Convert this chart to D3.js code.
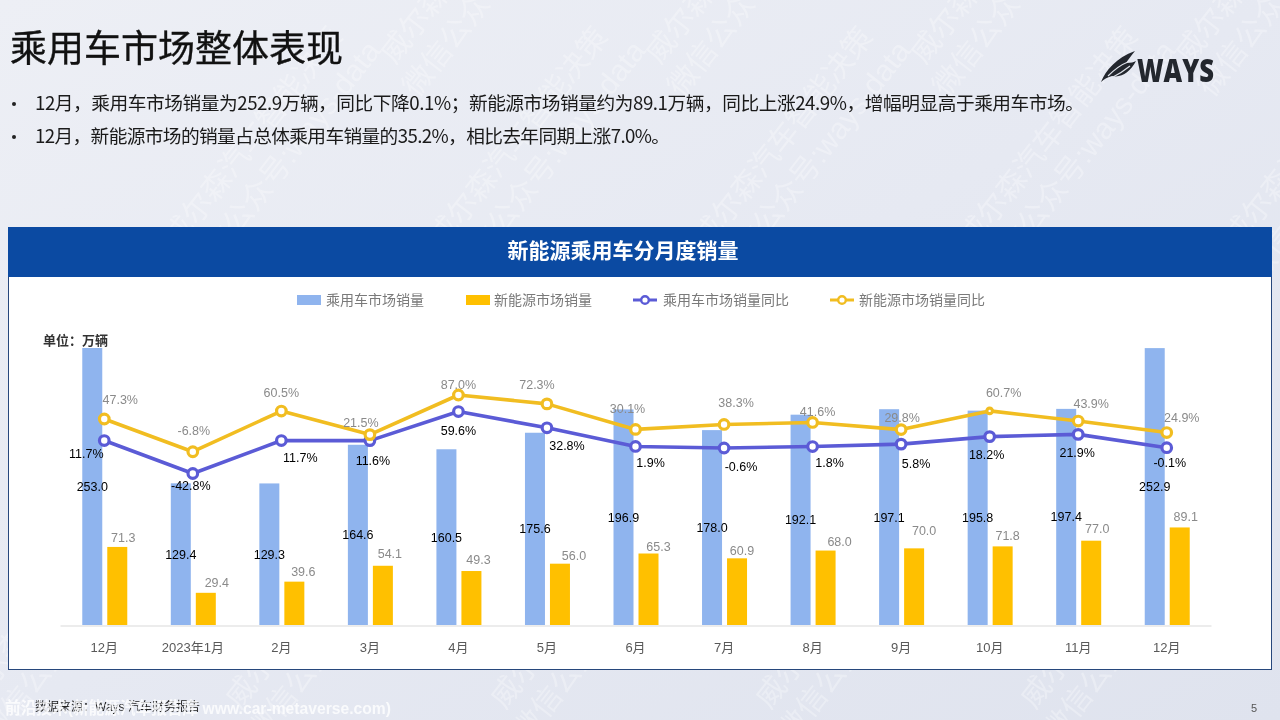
<!DOCTYPE html>
<html lang="zh">
<head>
<meta charset="utf-8">
<script src="https://cdn.jsdelivr.net/npm/d3@7"></script>
<style>
html,body{margin:0;padding:0;background:#e4e7f0;overflow:hidden}
svg{display:block}
text{font-family:"Liberation Sans","Noto Sans CJK SC",sans-serif}
</style>
</head>
<body>
<svg id="c" width="1280" height="720"></svg>
<script>
// ---- data ----
const categories = ["12月","2023年1月","2月","3月","4月","5月","6月","7月","8月","9月","10月","11月","12月"];
const passengerSales = [253.0,129.4,129.3,164.6,160.5,175.6,196.9,178.0,192.1,197.1,195.8,197.4,252.9];
const nevSales = [71.3,29.4,39.6,54.1,49.3,56.0,65.3,60.9,68.0,70.0,71.8,77.0,89.1];
const passengerYoY = [11.7,-42.8,11.7,11.6,59.6,32.8,1.9,-0.6,1.8,5.8,18.2,21.9,-0.1];
const nevYoY = [47.3,-6.8,60.5,21.5,87.0,72.3,30.1,38.3,41.6,29.8,60.7,43.9,24.9];
const seriesNames = ["乘用车市场销量","新能源市场销量","乘用车市场销量同比","新能源市场销量同比"];
const pageTitle = "乘用车市场整体表现";
const bullets = [
  "12月\uFF0C乘用车市场销量为252.9万辆\uFF0C同比下降0.1%\uFF1B新能源市场销量约为89.1万辆\uFF0C同比上涨24.9%\uFF0C增幅明显高于乘用车市场\u3002",
  "12月\uFF0C新能源市场的销量占总体乘用车销量的35.2%\uFF0C相比去年同期上涨7.0%\u3002"
];
const chartTitle = "新能源乘用车分月度销量";
const unitLabel = "单位\uFF1A万辆";
const watermarkLines = ["威尔森汽车智能决策","微信公众号:ways-data"];

// ---- hand-placed label nudges of the original slide ----
const nevBarLabelDx = [6,11,9,7,7,14,10,5,14,10,5,6,6];
const nevBarLabelDy = [-9,-10,-10,-12,-12,-8,-7,-8,-9,-18,-11,-12,-11];
const pYoYDx = [-18,-2,19,3,0,20,15,17,17,15,-3,-1,3];
const pYoYDy = [13,12,17,20,19,18,16,19,16,19,18,18,15];
const nYoYDx = [16,1,0,-9,0,-10,-8,12,5,1,14,13,15];
const nYoYDy = [-20,-21,-19,-12,-11,-19,-21,-22,-11,-12,-18,-18,-15];
const smallMarkerAt = [10];

// ---- layout ----
const svg = d3.select("#c");
const defs = svg.append("defs");
const grad = defs.append("linearGradient").attr("id","bg").attr("x1","0").attr("y1","0").attr("x2","1").attr("y2","1");
grad.append("stop").attr("offset","0").attr("stop-color","#edeff5");
grad.append("stop").attr("offset","0.5").attr("stop-color","#e6e9f2");
grad.append("stop").attr("offset","1").attr("stop-color","#dfe3ee");
svg.append("rect").attr("width",1280).attr("height",720).attr("fill","url(#bg)");

// watermark tiles
const wm = svg.append("g").attr("fill","#fff").attr("opacity",0.3).attr("font-size",30);
const wmRowsY = [-35,150,610];
const wmRowsX = [[486,751,1016,1281],[269,534,799,1064,1329],[66,331,596,861,1126]];
wmRowsY.forEach((y,r)=>wmRowsX[r].forEach(x=>{
  const g = wm.append("g").attr("transform",`translate(${x},${y}) rotate(-52)`);
  g.append("text").attr("text-anchor","middle").attr("y",-10).text(watermarkLines[0]);
  g.append("text").attr("text-anchor","middle").attr("y",28).text(watermarkLines[1]);
}));

// page heading
svg.append("text").attr("x",10).attr("y",62).attr("font-size",37).attr("fill","#111")
  .attr("stroke","#111").attr("stroke-width",0.35).text(pageTitle);
const bulletY = [110,143], bulletEnd = [1084,670];
bullets.forEach((b,i)=>{
  svg.append("circle").attr("cx",14).attr("cy",bulletY[i]-6).attr("r",2).attr("fill","#222");
  svg.append("text").attr("x",35).attr("y",bulletY[i]).attr("font-size",18.7).attr("fill","#1a1a1a")
    .style("font-family",'"Liberation Sans Narrow","Noto Sans CJK SC",sans-serif')
    .attr("textLength",bulletEnd[i]-35).attr("lengthAdjust","spacing").text(b);
});

// logo
const logo = svg.append("g").attr("fill","#23272e");
logo.append("path").attr("d","M1101 82 C1106 70 1116 58 1135 51 C1131 56 1128 60 1126 63 C1131 63 1134 62 1136 61 C1130 72 1122 78 1112 76 C1108 77 1104 79 1101 82Z");
logo.append("path").attr("d","M1108 76 C1114 70 1120 65 1128 62 M1113 77 C1119 74 1125 70 1130 66").attr("fill","none").attr("stroke","#dfe3ea").attr("stroke-width",1.2);
logo.append("text").attr("x",1137).attr("y",82).attr("font-size",31).attr("font-weight",800)
  .attr("textLength",77).attr("lengthAdjust","spacingAndGlyphs").style("font-family","'Open Sans'").text("WAYS");

// chart card
svg.append("rect").attr("x",8.5).attr("y",227.5).attr("width",1263).attr("height",442).attr("fill","#fff").attr("stroke","#27477c").attr("stroke-width",1);
svg.append("rect").attr("x",8).attr("y",227).attr("width",1264).attr("height",50).attr("fill","#0b4aa2");
svg.append("text").attr("x",623).attr("y",258).attr("text-anchor","middle").attr("font-size",21).attr("font-weight",700).attr("fill","#fff").text(chartTitle);

// scales
const x = d3.scaleBand().domain(d3.range(categories.length)).range([60,1211]);
const yBar = d3.scaleLinear().domain([0,253]).range([625,348]);
const yPct = d3.scaleLinear().domain([-42.8,87]).range([473.5,395]);
const barW = 20, cx = i=>x(i)+x.bandwidth()/2;
const bx1 = i=>cx(i)-12, bx2 = i=>cx(i)+13;
const idx = d3.range(categories.length);
const blue="#8fb4ee", gold="#ffc000", lineBlue="#5b5bd6", lineGold="#f1bd21";

// bars
svg.append("g").selectAll("rect").data(idx).join("rect")
  .attr("x",i=>bx1(i)-barW/2).attr("width",barW)
  .attr("y",i=>yBar(passengerSales[i])).attr("height",i=>yBar(0)-yBar(passengerSales[i])).attr("fill",blue);
svg.append("g").selectAll("rect").data(idx).join("rect")
  .attr("x",i=>bx2(i)-barW/2).attr("width",barW)
  .attr("y",i=>yBar(nevSales[i])).attr("height",i=>yBar(0)-yBar(nevSales[i])).attr("fill",gold);

// x axis
const ax = svg.append("g").attr("transform","translate(0,625.5)")
  .call(d3.axisBottom(x).tickSize(0).tickPadding(17).tickFormat(i=>categories[i]));
ax.select(".domain").attr("stroke","#d9d9d9").attr("stroke-width",1.2);
ax.selectAll("text").attr("font-size",13).attr("fill","#595959")
  .style("font-family",'"Liberation Sans","Noto Sans CJK SC",sans-serif');

// lines
function drawLine(vals,color){
  const gen = d3.line().x(i=>cx(i)).y(i=>yPct(vals[i]));
  svg.append("path").attr("d",gen(idx)).attr("fill","none").attr("stroke",color).attr("stroke-width",3.6).attr("stroke-linejoin","round");
  svg.append("g").selectAll("circle").data(idx).join("circle")
    .attr("cx",cx).attr("cy",i=>yPct(vals[i]))
    .attr("r",i=>(color===lineGold&&smallMarkerAt.includes(i))?2.8:4.8)
    .attr("fill","#fff").attr("stroke",color).attr("stroke-width",3.2);
}
drawLine(passengerYoY,lineBlue);
drawLine(nevYoY,lineGold);

// labels
const lab = (sel,xf,yf,tf,fill)=>sel.append("g").attr("font-size",12.5).attr("text-anchor","middle").attr("fill",fill)
  .selectAll("text").data(idx).join("text").attr("x",xf).attr("y",yf).attr("dy","0.36em").text(tf);
lab(svg,bx1,i=>(yBar(passengerSales[i])+yBar(0))/2,i=>passengerSales[i].toFixed(1),"#000");
lab(svg,i=>bx2(i)+nevBarLabelDx[i],i=>yBar(nevSales[i])+nevBarLabelDy[i],i=>nevSales[i].toFixed(1),"#8a8a8a");
lab(svg,i=>cx(i)+pYoYDx[i],i=>yPct(passengerYoY[i])+pYoYDy[i],i=>passengerYoY[i].toFixed(1)+"%","#000");
lab(svg,i=>cx(i)+nYoYDx[i],i=>yPct(nevYoY[i])+nYoYDy[i],i=>nevYoY[i].toFixed(1)+"%","#8a8a8a");

// unit
svg.append("text").attr("x",43).attr("y",345).attr("font-size",13).attr("font-weight",700).attr("fill","#333").text(unitLabel);

// legend
const legendX = [297,466,633,830], legendTextX = [326,494,663,859];
const lg = svg.append("g");
seriesNames.forEach((n,i)=>{
  if(i<2){
    lg.append("rect").attr("x",legendX[i]).attr("y",295).attr("width",24).attr("height",10).attr("fill",i?gold:blue);
  }else{
    const col = i===2?lineBlue:lineGold;
    lg.append("line").attr("x1",legendX[i]).attr("x2",legendX[i]+24).attr("y1",300).attr("y2",300).attr("stroke",col).attr("stroke-width",3);
    lg.append("circle").attr("cx",legendX[i]+12).attr("cy",300).attr("r",3.8).attr("fill","#fff").attr("stroke",col).attr("stroke-width",2.4);
  }
  lg.append("text").attr("x",legendTextX[i]).attr("y",305).attr("font-size",14).attr("fill","#7a7a7a").text(n);
});

// footer
svg.append("text").attr("x",35).attr("y",711).attr("font-size",12).attr("fill","#222").text("数据来源\uFF1AWays 汽车财务报告");
svg.append("text").attr("x",5).attr("y",714).attr("font-size",16.5).attr("font-weight",700).attr("fill","#fff").attr("opacity",0.78)
  .attr("textLength",386).attr("lengthAdjust","spacingAndGlyphs").text("前沿技术(新能源汽车报告库 www.car-metaverse.com)");
svg.append("text").attr("x",1254).attr("y",712).attr("font-size",11).attr("text-anchor","middle").attr("fill","#555").text("5");
</script>
</body>
</html>
